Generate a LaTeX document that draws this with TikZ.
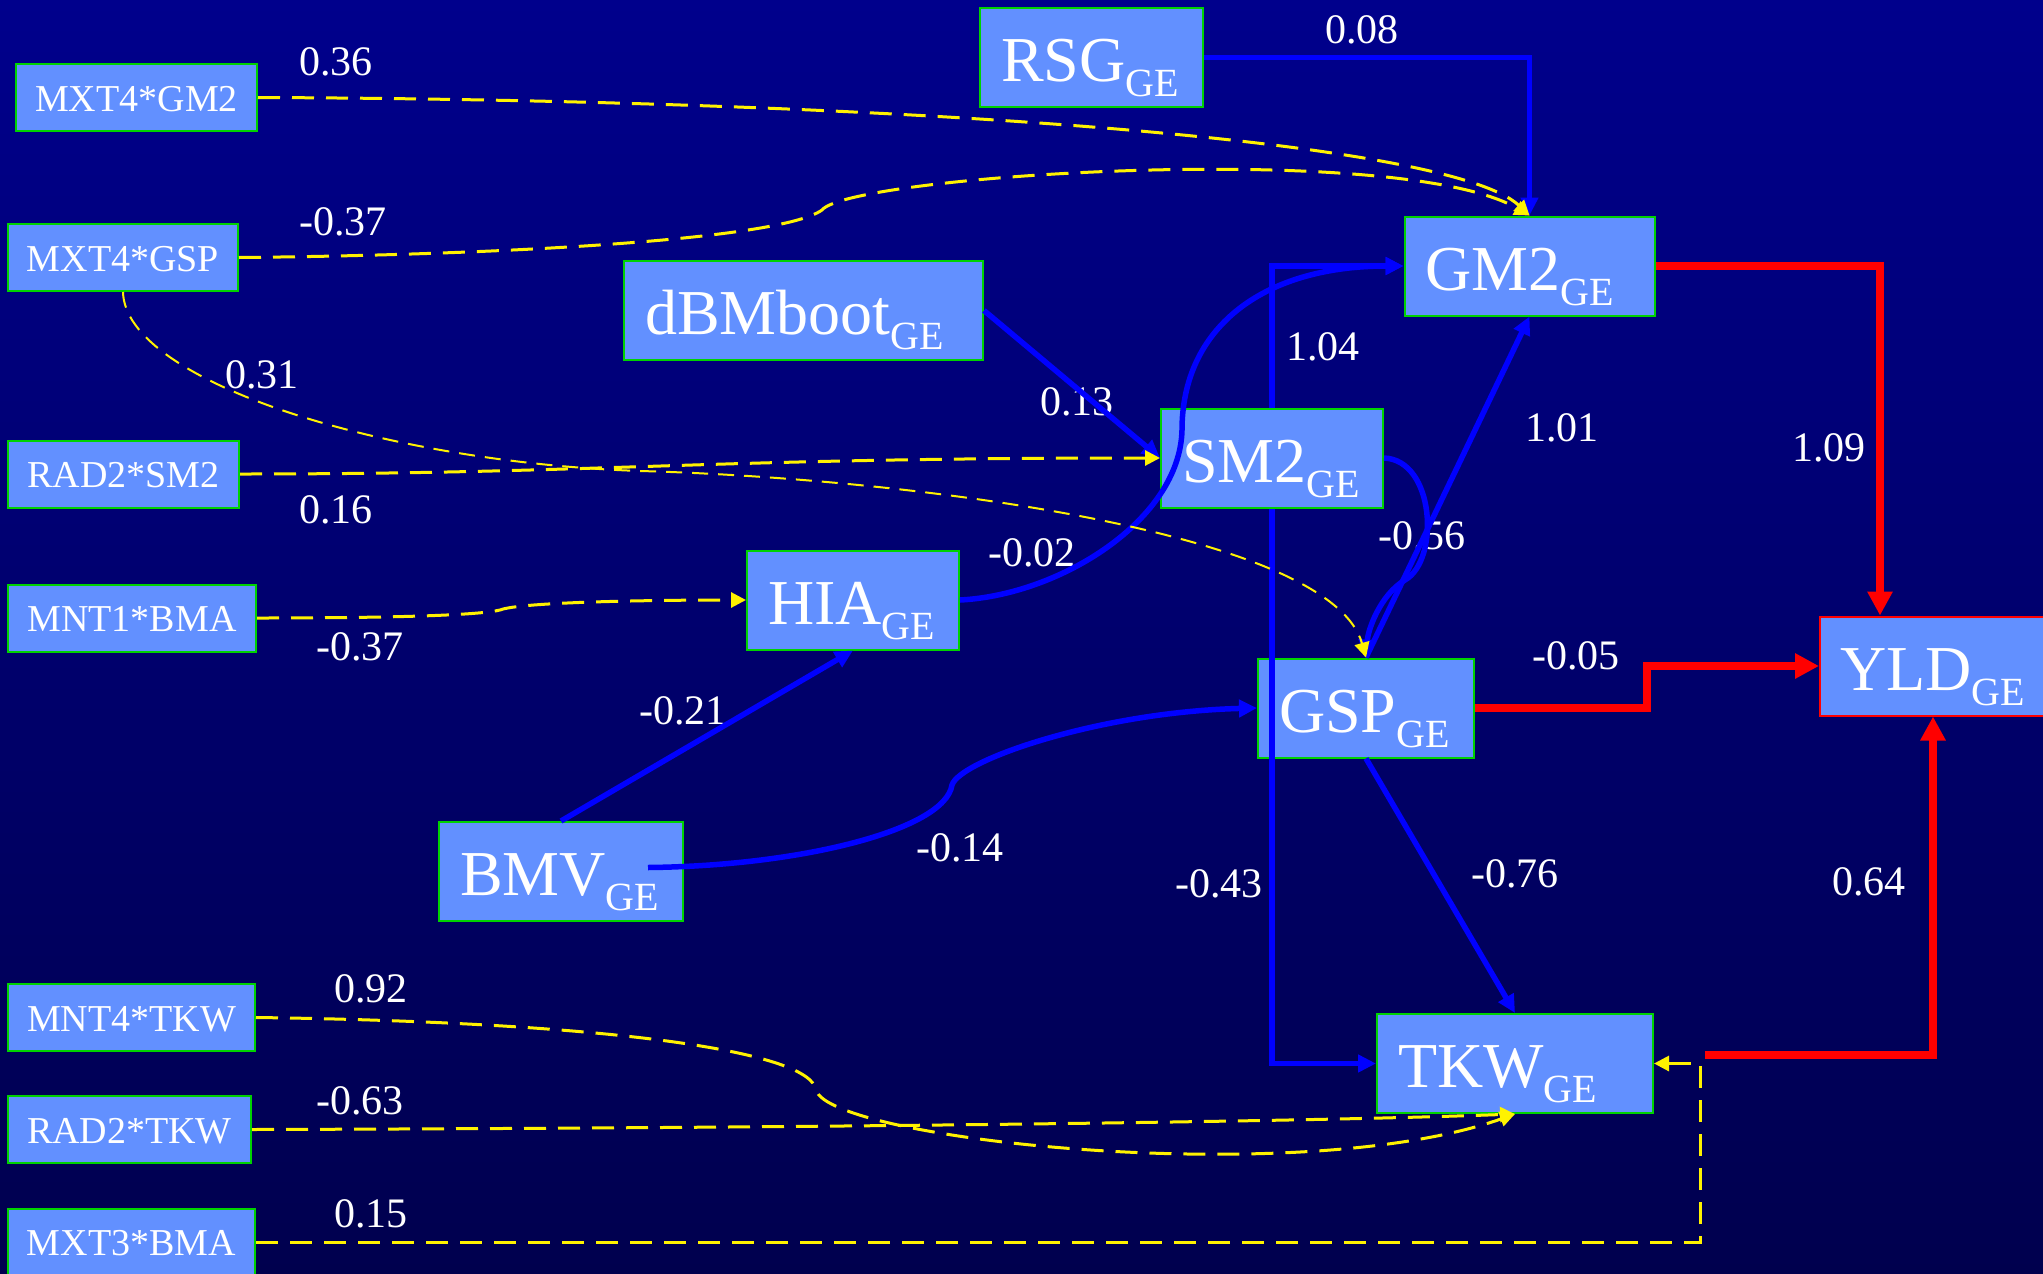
\documentclass[tikz,border=0pt]{standalone}
\usepackage{fontspec}
\setmainfont{Liberation Serif}
\usetikzlibrary{arrows.meta,calc}
\definecolor{bgtop}{RGB}{0,0,140}
\definecolor{bgbot}{RGB}{0,0,78}
\definecolor{boxfill}{RGB}{98,144,255}
\definecolor{boxgreen}{RGB}{0,210,0}
\definecolor{lineblue}{RGB}{0,0,255}
\newcommand\subGE{\raisebox{-15pt}{\fontsize{40}{44}\selectfont GE}}
\begin{document}
\begin{tikzpicture}[x=1pt,y=1pt,
 bigbox/.style={draw=boxgreen,line width=2pt,fill=boxfill,text=white,font=\fontsize{64}{70}\selectfont,inner xsep=21pt,inner ysep=0pt,minimum height=99pt,text height=48pt,text depth=0pt,align=left},
 smallbox/.style={draw=boxgreen,line width=2pt,fill=boxfill,text=white,font=\fontsize{38}{42}\selectfont,inner sep=0pt,minimum height=67pt,text height=27pt,text depth=0pt},
 lbl/.style={text=white,font=\fontsize{42}{46}\selectfont,inner sep=0pt},
 bl/.style={draw=lineblue,line width=5.5pt,-{Triangle[length=18pt,width=17pt]}},
 rd/.style={draw=red,line width=8pt,-{Triangle[length=24pt,width=24pt]}},
 yl/.style={draw=yellow,line width=3pt,dash pattern=on 22pt off 12pt,-{Triangle[length=15pt,width=15pt]}},
 ylthin/.style={yl,line width=2pt,dash pattern=on 16pt off 10pt}]
\useasboundingbox (0,0) rectangle (2043,-1274);
\clip (0,0) rectangle (2043,-1274);
\shade[top color=bgtop,bottom color=bgbot] (0,0) rectangle (2043,-1274);

% big nodes
\node[bigbox,text width=181pt] (RSG) at (1091.5,-57.5) {RSG\subGE};
\node[bigbox,text width=208pt] (GM2) at (1529.5,-266) {GM2\subGE};
\node[bigbox,text width=317pt] (dBM) at (803.5,-310.5) {dBMboot\subGE};
\node[bigbox,text width=180pt] (SM2) at (1272,-458) {SM2\subGE};
\node[bigbox,text width=170pt] (HIA) at (853,-600) {HIA\subGE};
\node[bigbox,text width=174pt] (GSP) at (1366,-708) {GSP\subGE};
\node[bigbox,draw=red,text width=186pt,inner xsep=20pt] (YLD) at (1933,-666) {YLD\subGE};
\node[bigbox,text width=202pt] (BMV) at (561,-871.5) {BMV\subGE};
\node[bigbox,text width=234pt] (TKW) at (1515,-1063.5) {TKW\subGE};

% small nodes
\node[smallbox,minimum width=241pt] (m1) at (136.5,-97.5) {MXT4*GM2};
\node[smallbox,minimum width=230pt] (m2) at (123,-257.5) {MXT4*GSP};
\node[smallbox,minimum width=231pt] (m3) at (123.5,-474) {RAD2*SM2};
\node[smallbox,minimum width=248pt] (m4) at (132,-618) {MNT1*BMA};
\node[smallbox,minimum width=247pt] (m5) at (131.5,-1017.5) {MNT4*TKW};
\node[smallbox,minimum width=243pt] (m6) at (129.5,-1129.5) {RAD2*TKW};
\node[smallbox,minimum width=247pt] (m7) at (131.5,-1242) {MXT3*BMA};

% labels
\node[lbl] (l1) at (336,-62) {0.36};
\node[lbl] (l2) at (343,-222) {-0.37};
\node[lbl] (l3) at (262,-375) {0.31};
\node[lbl] (l4) at (336,-510) {0.16};
\node[lbl] (l5) at (360,-647) {-0.37};
\node[lbl] (l6) at (371,-989) {0.92};
\node[lbl] (l7) at (360,-1101) {-0.63};
\node[lbl] (l8) at (371,-1214) {0.15};
\node[lbl] (l9) at (1362,-30) {0.08};
\node[lbl] (l10) at (1323,-347) {1.04};
\node[lbl] (l11) at (1077,-402) {0.13};
\node[lbl] (l12) at (1562,-428) {1.01};
\node[lbl] (l13) at (1829,-448) {1.09};
\node[lbl] (l14) at (1422,-536) {-0.56};
\node[lbl] (l15) at (1032,-553) {-0.02};
\node[lbl] (l16) at (683,-711) {-0.21};
\node[lbl] (l17) at (960,-848) {-0.14};
\node[lbl] (l18) at (1576,-656) {-0.05};
\node[lbl] (l19) at (1219,-884) {-0.43};
\node[lbl] (l20) at (1515,-874) {-0.76};
\node[lbl] (l21) at (1869,-882) {0.64};

% blue paths
\draw[bl] (RSG.east) -| (GM2.north);
\draw[bl] (SM2.north) |- (GM2.west);
\draw[bl] (SM2.south) |- (TKW.west);
\draw[bl] (dBM.east) -- (SM2.west);
\draw[bl] (HIA.east) .. controls (1060,-595) and (1180,-520) .. (1182,-430)
          .. controls (1182,-330) and (1260,-266) .. (GM2.west);
\draw[bl] (GSP.north) -- (GM2.south);
\draw[bl] (SM2.east) .. controls (1435,-460) and (1440,-560) .. (1405,-580)
          .. controls (1380,-595) and (1368,-630) .. (GSP.north);
\draw[bl] (BMV.north) -- (HIA.south);
\draw[bl] ($(BMV.center)+(87,4)$) .. controls (800,-866) and (945,-830) .. (952,-785)
          .. controls (960,-760) and (1100,-712) .. (GSP.west);
\draw[bl] (GSP.south) -- (TKW.north);

% red paths
\coordinate (tkwout) at (1705,-1055);
\draw[rd] (GM2.east) -| ([xshift=-53pt]YLD.north);
\draw[rd] (GSP.east) -- ++(172,0) |- (YLD.west);
\draw[rd] (tkwout) -| (YLD.south);

% yellow dashed paths
\draw[yl] (m1.east) .. controls (900,-100) and (1450,-140) .. (GM2.north);
\draw[yl] (m2.east) .. controls (500,-255) and (780,-240) .. (822,-210)
          .. controls (850,-175) and (1400,-140) .. (GM2.north);
\draw[ylthin] (m2.south) .. controls (125,-380) and (380,-462) .. (640,-471)
          .. controls (900,-478) and (1330,-530) .. (GSP.north);
\draw[yl] (m3.east) .. controls (600,-474) and (700,-458) .. (SM2.west);
\draw[yl] (m4.east) .. controls (400,-618) and (480,-615) .. (500,-610)
          .. controls (520,-602) and (650,-600) .. (HIA.west);
\draw[yl] (m5.east) .. controls (600,-1022) and (810,-1050) .. (816,-1090)
          .. controls (830,-1140) and (1300,-1190) .. (TKW.south);
\draw[yl] (m6.east) .. controls (800,-1128) and (1300,-1122) .. (TKW.south);
\coordinate (c7) at (1700,-1242);
\draw[yl] (m7.east) -- (c7) |- (TKW.east);
\end{tikzpicture}
\end{document}
